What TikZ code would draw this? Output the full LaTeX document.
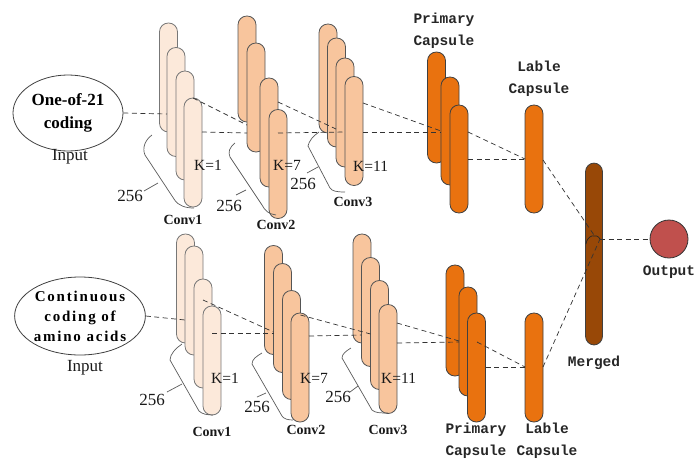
\documentclass[tikz,border=0pt]{standalone}
\usepackage{fontspec}
\setmainfont{Liberation Serif}
\newfontfamily\capfont{Liberation Mono}
\newfontfamily\widefont[LetterSpace=12]{Liberation Serif}
\usetikzlibrary{shapes.geometric}

\definecolor{convA}{HTML}{FCE9DA}
\definecolor{convB}{HTML}{F8C59D}
\definecolor{capsA}{HTML}{E9720F}
\definecolor{mergeC}{HTML}{984807}
\definecolor{outC}{HTML}{C0504D}
\definecolor{edgeC}{HTML}{555555}
\definecolor{lineC}{HTML}{333333}
\definecolor{braceC}{HTML}{5A5A5A}

\tikzset{
  pill/.style={draw=edgeC, line width=0.8pt, rounded corners=8.8pt,
    minimum width=18pt, minimum height=109pt, inner sep=0pt, outer sep=0pt},
  c1/.style={pill, fill=convA, draw=edgeC!80},
  c2/.style={pill, fill=convB},
  capsule/.style={pill, fill=capsA, draw=black!75},
  link/.style={draw=lineC, line width=0.7pt, dash pattern=on 5pt off 3.5pt},
  brace/.style={draw=braceC, line width=0.7pt},
  lbl/.style={font=\fontsize{17}{19}\selectfont, text=black!90, inner sep=0pt},
  conv/.style={font=\bfseries\fontsize{14}{16}\selectfont, text=black!90, inner sep=0pt},
  mono/.style={font=\capfont\bfseries\fontsize{14.5}{22}\selectfont, text=black!85, inner sep=0pt, align=center},
  kl/.style={font=\fontsize{15.5}{17}\selectfont, text=black!90, inner sep=0pt, anchor=west}
}

\begin{document}
\begin{tikzpicture}[x=1pt, y=-1pt]
\useasboundingbox (0,0) rectangle (694,461);

% ---------- upper branch ----------
\node[ellipse, draw=black!75, line width=0.8pt, minimum width=110pt, minimum height=76pt,
      inner sep=0pt, align=center, font=\bfseries\fontsize{17}{23}\selectfont] (in1) at (68,113) {One-of-21\\coding};
\node[lbl] (inl1) at (70,157) {Input};

\node[c1] (t1a) at (168.5,77.5) {};
\node[c1] (t1b) at (176,102) {};
\node[c1] (t1c) at (185,125.5) {};
\node[c1] (t1d) at (193,152.5) {};

\node[c2, minimum height=106pt] (t2a) at (247,69) {};
\node[c2] (t2b) at (256,97.5) {};
\node[c2] (t2c) at (269,132.5) {};
\node[c2] (t2d) at (278,164) {};

\node[c2] (t3a) at (328,78.5) {};
\node[c2] (t3b) at (336.5,92.5) {};
\node[c2] (t3c) at (345,112.5) {};
\node[c2] (t3d) at (354,131) {};

\node[capsule, minimum height=111pt] (p1a) at (436.5,107.5) {};
\node[capsule, minimum height=108pt] (p1b) at (450,131) {};
\node[capsule, minimum height=108pt] (p1c) at (459,159) {};
\node[capsule, minimum height=108pt] (l1) at (534,159) {};

% ---------- lower branch ----------
\node[ellipse, draw=black!75, line width=0.8pt, minimum width=126pt, minimum height=78pt,
      inner sep=0pt, align=center, font=\widefont\bfseries\fontsize{15}{20}\selectfont] (in2) at (80,316)
      {Continuous\\coding of\\amino acids};
\node[lbl] (inl2) at (85,368) {Input};

\node[c1] (b1a) at (185.5,288.5) {};
\node[c1] (b1b) at (194,300.5) {};
\node[c1] (b1c) at (203,333.5) {};
\node[c1] (b1d) at (212,360.5) {};

\node[c2] (b2a) at (273.5,300) {};
\node[c2] (b2b) at (282.5,318) {};
\node[c2] (b2c) at (291.5,345) {};
\node[c2] (b2d) at (300,367.5) {};

\node[c2] (b3a) at (362,288.5) {};
\node[c2] (b3b) at (370.5,312) {};
\node[c2] (b3c) at (379.5,335) {};
\node[c2] (b3d) at (388,359) {};

\node[capsule, minimum height=111pt] (p2a) at (455,320.5) {};
\node[capsule, minimum height=109pt] (p2b) at (468,341.5) {};
\node[capsule, minimum height=109pt] (p2c) at (476.5,367.5) {};
\node[capsule, minimum height=109pt] (l2) at (534,367.5) {};

% ---------- merge and output ----------
\node[pill, fill=mergeC, draw=black!75, minimum width=17pt, minimum height=182pt] (mg) at (594,254) {};
\node[circle, draw=black!80, line width=0.8pt, fill=outC, minimum size=38pt, inner sep=0pt] (out) at (669,239) {};
\coordinate (mj) at (600,239);

% ---------- dashed connections, upper ----------
\draw[link] (in1.east) -- (t1b.west |- 0,114);
\draw[link] (t1d.north) -- (t2b.west |- 0,125);
\draw[link] (t1d.east |- 0,132) -- (t2b.west |- 0,133);
\draw[link] (t2c.east |- 0,102) -- (t3c.west |- 0,129);
\draw[link] (t2d.center |- 0,133) -- (t3d.west |- 0,132);
\draw[link] (t3d.east |- 0,103) -- (p1b.west |- 0,131);
\draw[link] (t3d.east |- 0,132) -- (p1b.west |- 0,132);
\draw[link] (p1c.east |- 0,132) -- (l1.west |- 0,159);
\draw[link] (p1c.east |- 0,159) -- (l1.west |- 0,159);
\draw[link] (l1.east |- 0,160) -- (mg.center |- 0,235);

% ---------- dashed connections, lower ----------
\draw[link] (in2.east) -- (b1b.west |- 0,320);
\draw[link] (b1d.west |- 0,300) -- (b2b.west |- 0,332);
\draw[link] (b1d.center |- 0,333) -- (b2b.west |- 0,333);
\draw[link] (b2c.east |- 0,315) -- (b3c.west |- 0,334);
\draw[link] (b2d.east |- 0,336) -- (b3b.west |- 0,335);
\draw[link] (b3d.east |- 0,323) -- (p2b.west |- 0,341);
\draw[link] (b3d.east |- 0,343) -- (p2b.west |- 0,342);
\draw[link] (p2b.east |- 0,342) -- (l2.west |- 0,367);
\draw[link] (p2c.east |- 0,367) -- (l2.west |- 0,367);
\draw[link] (l2.east |- 0,367) -- (mj);

% junction on the merged layer and its output
\draw[black!85, line width=0.7pt] (586,244) .. controls (587,235) and (597,233) .. (mj);
\draw[link] (mj) -- (out.west);

% ---------- filter-count brackets ----------
\draw[brace] (152,135) .. controls (145,140) and (142,148) .. (145,155) -- (174,199) .. controls (178,206) and (186,208) .. (194,208);
\draw[brace] (158,183) -- (144,191);
\draw[brace] (235,143) .. controls (229,148) and (228,152) .. (230,157) -- (262,205) .. controls (265,211) and (269,214) .. (276,215);
\draw[brace] (246,190) -- (236,195);
\draw[brace] (319,132) .. controls (313,136) and (309,141) .. (308,146) -- (330,188) .. controls (332,191) and (336,192) .. (345,192);
\draw[brace] (318,167) -- (307,173);

\draw[brace] (182,344) .. controls (176,348) and (170,354) .. (170,360) -- (199,411) .. controls (202,414) and (207,415) .. (213,415);
\draw[brace] (182,384) -- (167,392);
\draw[brace] (262,353) .. controls (257,356) and (252,359) .. (252,364) -- (282,416) .. controls (284,419) and (288,420) .. (293,420);
\draw[brace] (266,393) -- (257,397);
\draw[brace] (351,348) .. controls (346,351) and (342,354) .. (342,358) -- (372,410) .. controls (375,413) and (381,413) .. (388,413);
\draw[brace] (358,386) -- (350,392);

% ---------- labels, upper ----------
\node[lbl] (n1) at (130,196) {256};
\node[lbl] (n2) at (229,206) {256};
\node[lbl] (n3) at (303,184) {256};
\node[conv] (cv1) at (183,220) {Conv1};
\node[conv] (cv2) at (276,225) {Conv2};
\node[conv] (cv3) at (353,202) {Conv3};
\node[kl] (k1) at (194,165) {K=1};
\node[kl] (k2) at (273,165) {K=7};
\node[kl] (k3) at (353,166) {K=11};
\node[mono] (pc1) at (444,31) {Primary\\Capsule};
\node[mono] (lc1) at (539,79) {Lable\\Capsule};

% ---------- labels, lower ----------
\node[lbl] (n4) at (152,400) {256};
\node[lbl] (n5) at (257,407) {256};
\node[lbl] (n6) at (338,397) {256};
\node[conv] (cv4) at (212,432) {Conv1};
\node[conv] (cv5) at (306,430) {Conv2};
\node[conv] (cv6) at (388,430) {Conv3};
\node[kl] (k4) at (211,378) {K=1};
\node[kl] (k5) at (300,378) {K=7};
\node[kl] (k6) at (381,378) {K=11};
\node[mono] (pc2) at (476,441) {Primary\\Capsule};
\node[mono] (lc2) at (547,441) {Lable\\Capsule};

\node[mono] (mgl) at (594,363) {Merged};
\node[mono] (outl) at (669,272) {Output};
\end{tikzpicture}
\end{document}
